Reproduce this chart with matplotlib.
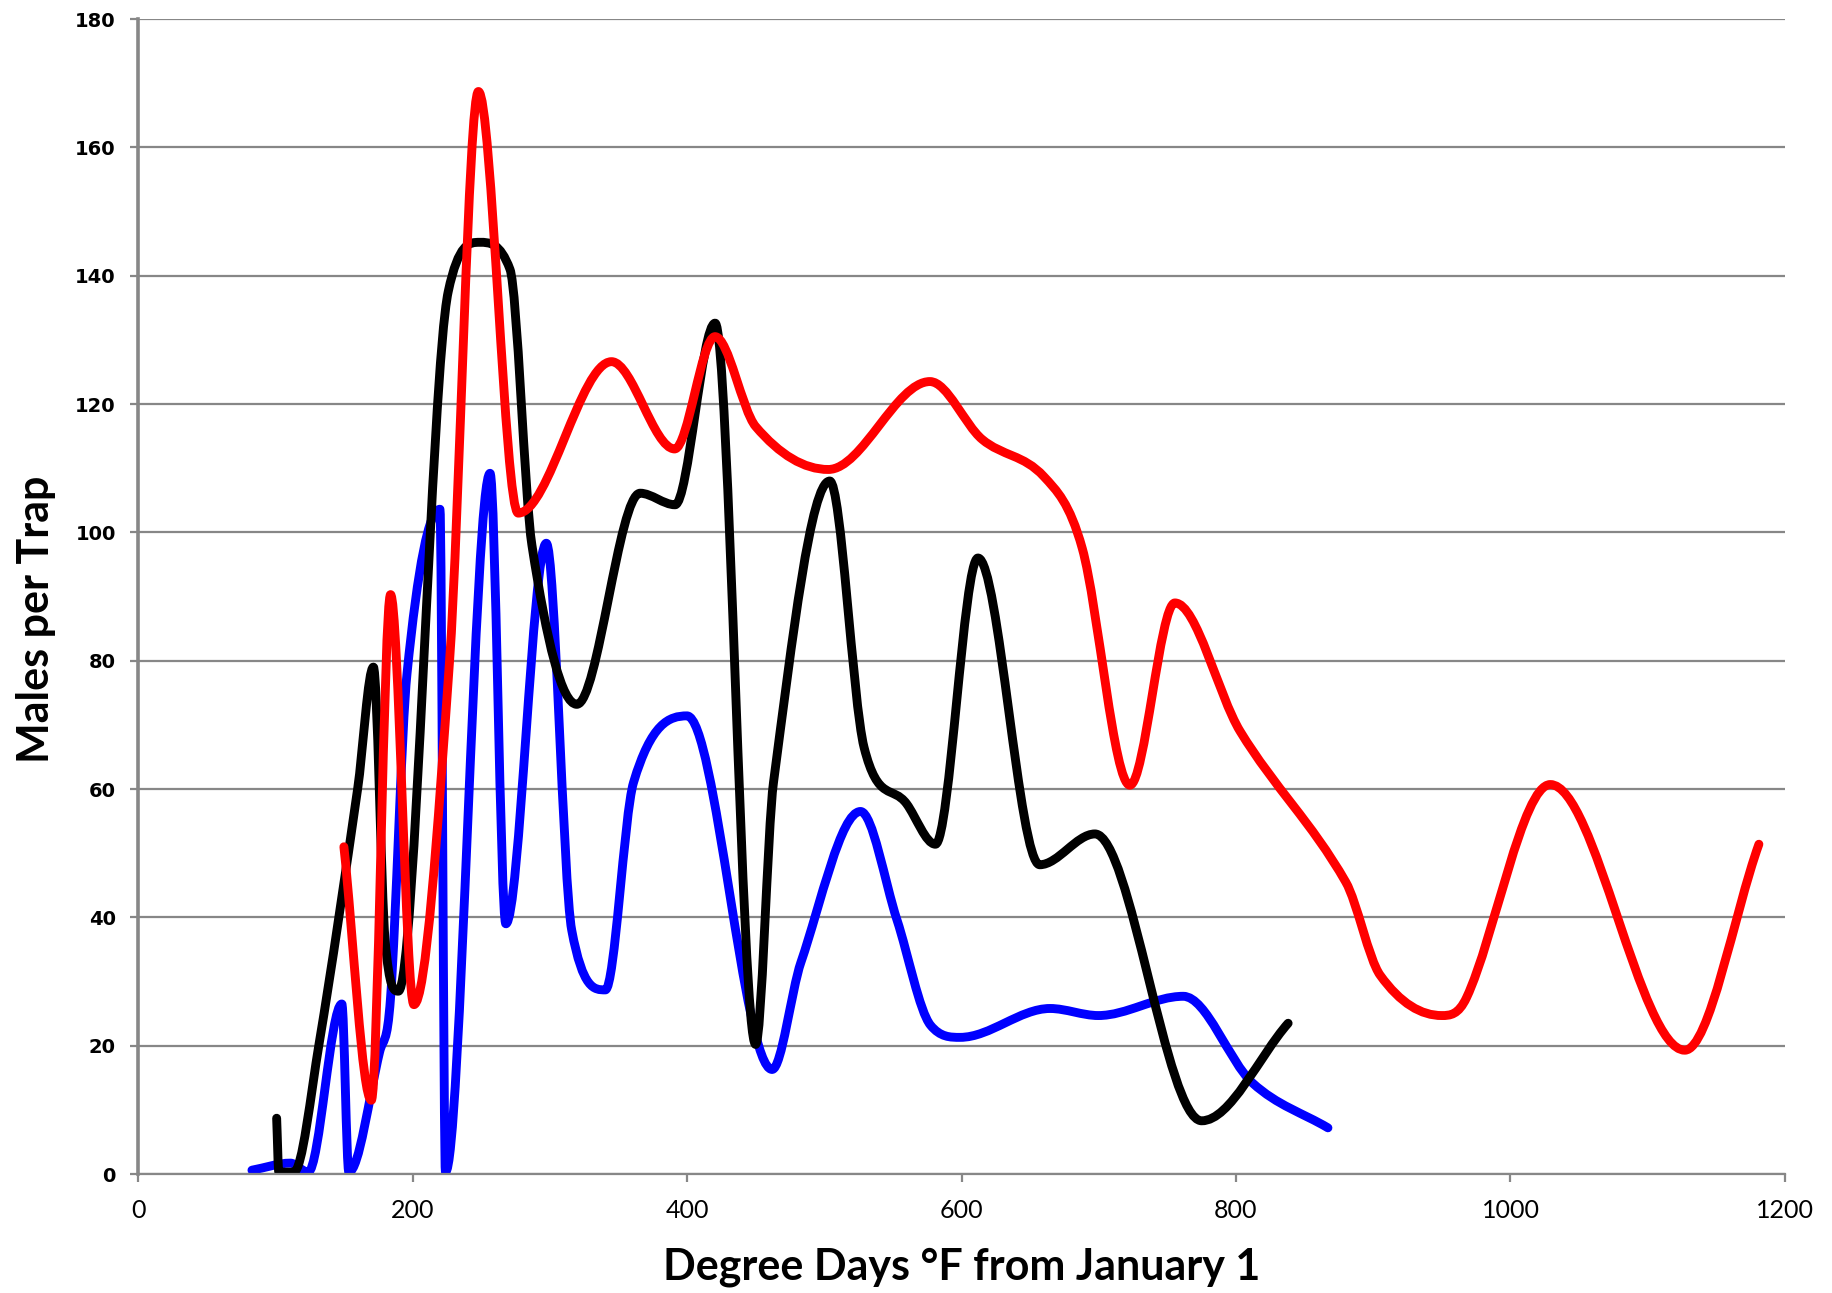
import numpy as np
import matplotlib
matplotlib.use('Agg')
import matplotlib.pyplot as plt
from matplotlib.path import Path
from matplotlib.patches import PathPatch

# values (degree days, males per trap)
blue_x = [83, 111, 124, 148.5, 153.6, 176, 184, 196, 220, 224, 256.5, 268, 297.5,
          316, 340.5, 361, 400, 462, 483, 526.4, 553, 577.4, 599, 664.5, 699.7,
          761.6, 812, 867]
blue_y = [0.6, 1.7, 0.3, 26.5, 0.3, 19, 27.5, 78, 103.6, 0.3, 109.2, 39, 98.3,
          38, 28.7, 61, 71.4, 16.3, 33, 56.5, 39.6, 23.2, 21.3, 25.8, 24.7,
          27.7, 14.2, 7.2]

black_x = [101, 102.6, 113.5, 132, 160, 171.5, 180, 189.7, 226, 249, 271, 287,
           319.7, 365.8, 391.3, 420.5, 450, 463, 504, 529, 560, 581, 612, 657,
           697.2, 775, 838]
black_y = [8.7, 0.3, 0.3, 20.4, 60, 79, 36.5, 28.5, 137.5, 145.2, 141, 98,
           73.2, 106.1, 104.3, 132.6, 20.2, 61, 108, 66.5, 57.7, 51.4, 96, 48.2,
           53, 8.3, 23.5]

red_x = [150, 170, 184, 201, 227, 248, 277, 345, 391, 420.4, 450, 503, 577,
         615, 660, 688, 722.7, 755.5, 803, 880, 905, 950, 968, 1029, 1127, 1181]
red_y = [51, 11.5, 90.3, 26.4, 80, 168.7, 103, 126.6, 113, 130.5, 116.5, 109.8,
         123.5, 114.5, 108.7, 97.5, 60.6, 89, 69, 45.5, 31, 24.7, 27.5, 60.7,
         19.3, 51.4]

x_ticks = [0, 200, 400, 600, 800, 1000, 1200]
y_ticks = [0, 20, 40, 60, 80, 100, 120, 140, 160, 180]

GRID = '#878787'


def slopes(x, y):
  # centred tangents, flat at the peaks and dips, limited so nothing overshoots
  x = np.asarray(x, float)
  y = np.asarray(y, float)
  d = np.diff(y) / np.diff(x)
  m = np.zeros_like(y)
  m[0] = d[0]
  m[-1] = d[-1]
  for k in range(1, len(y) - 1):
    if d[k - 1] * d[k] <= 0:
      continue
    c = (y[k + 1] - y[k - 1]) / (x[k + 1] - x[k - 1])
    lim = 3 * min(abs(d[k - 1]), abs(d[k]))
    m[k] = np.sign(c) * min(abs(c), lim)
  return m


def smooth_line(ax, x, y, color):
  m = slopes(x, y)
  verts = [(x[0], y[0])]
  codes = [Path.MOVETO]
  for i in range(len(x) - 1):
    h = x[i + 1] - x[i]
    verts.append((x[i] + h / 3, y[i] + m[i] * h / 3))
    verts.append((x[i + 1] - h / 3, y[i + 1] - m[i + 1] * h / 3))
    verts.append((x[i + 1], y[i + 1]))
    codes += [Path.CURVE4] * 3
  patch = PathPatch(Path(verts, codes), fill=False, edgecolor=color, lw=6.4,
                    capstyle='round', joinstyle='round')
  ax.add_patch(patch)


fig = plt.figure(figsize=(18.33, 12.93), dpi=100)
ax = fig.add_axes([0.0753, 0.092, 0.8985, 0.8933])

ax.set_xlim(0, 1200)
ax.set_ylim(0, 180)
ax.set_yticks(y_ticks)
ax.set_xticks(x_ticks)
ax.yaxis.grid(True, color=GRID, lw=1.6)
ax.set_axisbelow(True)

for s in ['top', 'right']:
  ax.spines[s].set_visible(False)
ax.spines['left'].set_color(GRID)
ax.spines['left'].set_linewidth(2.6)
ax.spines['bottom'].set_color(GRID)
ax.spines['bottom'].set_linewidth(1.6)
ax.tick_params(axis='both', direction='out', length=6, width=1.6, color=GRID)
ax.tick_params(axis='y', pad=10)
ax.tick_params(axis='x', pad=12)

ax.set_xticklabels([str(v) for v in x_ticks], family='Lato', fontsize=18)
ax.set_yticklabels([str(v) for v in y_ticks], family='DejaVu Sans',
                   fontweight='bold', fontsize=14)

smooth_line(ax, blue_x, blue_y, '#0000ff')
smooth_line(ax, black_x, black_y, '#000000')
smooth_line(ax, red_x, red_y, '#ff0000')

ax.set_xlabel('Degree Days \u00b0F from January 1', family='Lato',
              fontweight='bold', fontsize=31, labelpad=18)
ax.set_ylabel('Males per Trap', family='Lato', fontweight='bold',
              fontsize=31)
ax.yaxis.set_label_coords(-0.05, 0.48)

fig.savefig('out.png', dpi=100)
